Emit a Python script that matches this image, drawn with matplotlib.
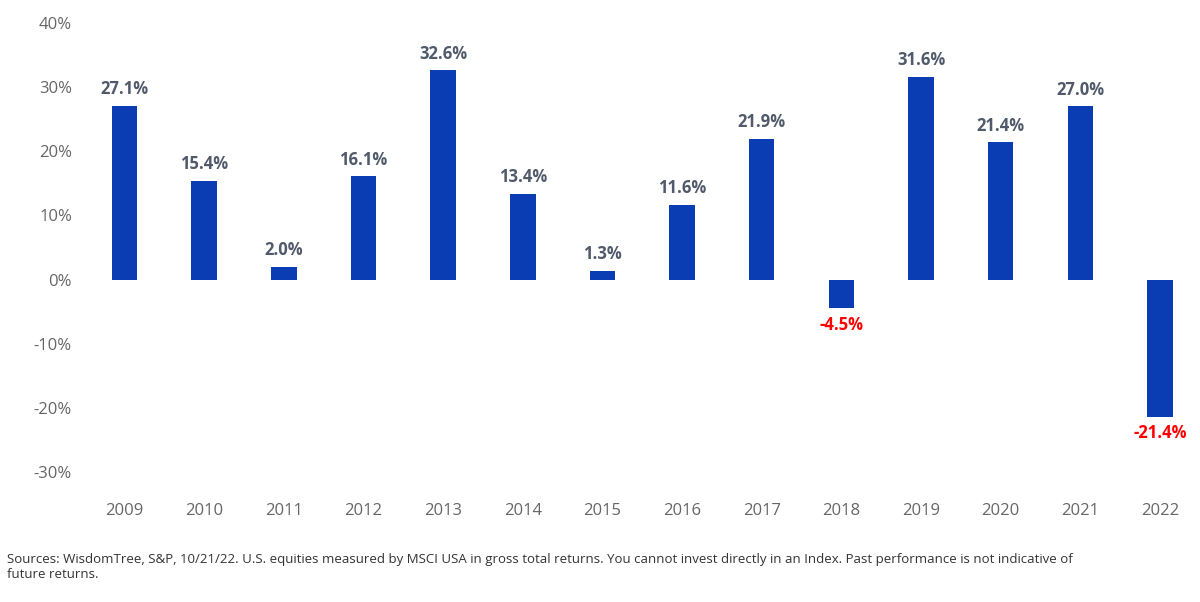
import matplotlib.pyplot as plt
from matplotlib.ticker import FuncFormatter

years = ["2009", "2010", "2011", "2012", "2013", "2014", "2015",
         "2016", "2017", "2018", "2019", "2020", "2021", "2022"]
returns = [27.1, 15.4, 2.0, 16.1, 32.6, 13.4, 1.3, 11.6, 21.9, -4.5, 31.6, 21.4, 27.0, -21.4]

note = ("Sources: WisdomTree, S&P, 10/21/22. U.S. equities measured by MSCI USA in gross total returns. "
        "You cannot invest directly in an Index. Past performance is not indicative of\nfuture returns.")

plt.rcParams['font.family'] = ['Open Sans', 'DejaVu Sans']
fig = plt.figure(figsize=(12, 6.02), dpi=100)
ax = fig.add_axes([0.064, 0.216, 0.9325, 0.746])

x = range(len(years))
ax.bar(x, returns, width=0.32, color="#0a3cb4", zorder=2)
for i, v in enumerate(returns):
    if v >= 0:
        ax.text(i, v + 1.2, f"{v:.1f}%", ha="center", va="bottom", fontsize=12,
                fontweight="bold", color="#505a6a", clip_on=False)
    else:
        ax.text(i, v - 1.2, f"{v:.1f}%", ha="center", va="top", fontsize=12,
                fontweight="bold", color="#ff0000", clip_on=False)

ax.set_xlim(-0.6, 13.45)
ax.set_ylim(-30, 40)
ax.set_yticks(range(-30, 41, 10))
ax.yaxis.set_major_formatter(FuncFormatter(lambda v, p: f"{v:.0f}%"))
ax.set_xticks(list(x))
ax.set_xticklabels(years)
ax.tick_params(axis="both", length=0, labelsize=12, labelcolor="#666666")
ax.tick_params(axis="x", pad=22)
for s in ax.spines.values():
    s.set_visible(False)

fig.text(0.006, 0.035, note, fontsize=9.5, color="#333333", ha="left", va="bottom")
fig.savefig("out.png", dpi=100)
